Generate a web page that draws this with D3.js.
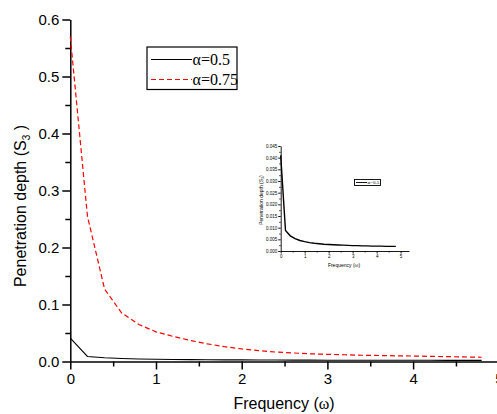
<!DOCTYPE html>
<html><head><meta charset="utf-8">
<script src="https://cdn.jsdelivr.net/npm/d3@7/dist/d3.min.js"></script>
<style>body{margin:0;background:#fff}svg{display:block}</style>
</head><body><svg id="c" width="497" height="414"></svg>
<script>
const freq = [0,0.2,0.4,0.6,0.8,1.0,1.2,1.4,1.6,1.8,2.0,2.2,2.4,2.6,2.8,3.0,3.2,3.4,3.6,3.8,4.0,4.2,4.4,4.6,4.8];
const alpha05 = [0.041,0.0088,0.0065,0.0053,0.0045,0.0040,0.0036,0.0033,0.0031,0.0029,0.0028,0.0027,0.0026,0.0025,0.0024,0.0023,0.0023,0.0022,0.0022,0.0021,0.0021,0.0021,0.0020,0.0020,0.0020];
const alpha075 = [0.57,0.255,0.127,0.085,0.065,0.052,0.044,0.037,0.031,0.026,0.022,0.019,0.0165,0.015,0.0135,0.0126,0.0118,0.011,0.0105,0.010,0.0096,0.009,0.0085,0.008,0.0075];
const legendLabels = ["α=0.5","α=0.75"];
const xTicks = [0,1,2,3,4,5];
const xMinor = [0.5,1.5,2.5,3.5,4.5];
const yTicks = [0,0.1,0.2,0.3,0.4,0.5,0.6];
const yMinor = [0.05,0.15,0.25,0.35,0.45,0.55];
const insetYTicks = [0,0.005,0.01,0.015,0.02,0.025,0.03,0.035,0.04,0.045];
const insetYMinor = [0.0025,0.0075,0.0125,0.0175,0.0225,0.0275,0.0325,0.0375,0.0425];

const svg = d3.select("#c");
const sans = "Arial, 'Liberation Sans', sans-serif";
const serif = "'Times New Roman', 'Liberation Serif', serif";

// main scales
const x = d3.scaleLinear().domain([0,5]).range([70.3,498.8]);
const y = d3.scaleLinear().domain([0,0.6]).range([361.5,19.5]);

function styleAxis(g, fs){
  g.selectAll("path,line").attr("stroke","#000");
  g.selectAll("text").attr("font-family",sans).attr("font-size",fs).attr("fill","#000");
}

// minor ticks
svg.append("g").attr("transform",`translate(0,${y(0)})`)
  .call(d3.axisBottom(x).tickValues(xMinor).tickSize(5).tickFormat("").tickSizeOuter(0))
  .call(g=>{g.select(".domain").remove(); g.selectAll("line").attr("stroke","#000").attr("stroke-width",1.5);});
svg.append("g").attr("transform",`translate(${x(0)},0)`)
  .call(d3.axisLeft(y).tickValues(yMinor).tickSize(5).tickFormat("").tickSizeOuter(0))
  .call(g=>{g.select(".domain").remove(); g.selectAll("line").attr("stroke","#000").attr("stroke-width",1.5);});

const gx = svg.append("g").attr("transform",`translate(0,${y(0)})`)
  .call(d3.axisBottom(x).tickValues(xTicks).tickSize(8).tickPadding(4).tickSizeOuter(0).tickFormat(d3.format("d")));
styleAxis(gx,15);
gx.selectAll("path,line").attr("stroke-width",1.5);
const gy = svg.append("g").attr("transform",`translate(${x(0)},0)`)
  .call(d3.axisLeft(y).tickValues(yTicks).tickSize(8).tickPadding(3).tickSizeOuter(0).tickFormat(d3.format(".1f")));
styleAxis(gy,15);
gy.selectAll("path,line").attr("stroke-width",1.5);

// lines
const line = d3.line().x((d,i)=>x(freq[i])).y(d=>y(d));
svg.append("path").datum(alpha05).attr("d",line).attr("fill","none").attr("stroke","#000").attr("stroke-width",1.1);
svg.append("path").datum(alpha075).attr("d",line).attr("fill","none").attr("stroke","#ff0000").attr("stroke-width",1.2).attr("stroke-dasharray","5,3");

// axis titles
svg.append("text").attr("x",284).attr("y",409).attr("text-anchor","middle")
  .attr("font-family",sans).attr("font-size",16).text("Frequency (")
  .append("tspan").attr("font-family",serif).text("ω")
  .select(function(){return this.parentNode;}).append("tspan").text(")");
const yt = svg.append("text").attr("transform","translate(25.5,206) rotate(-90)").attr("text-anchor","middle")
  .attr("font-family",sans).attr("font-size",16);
yt.append("tspan").text("Penetration depth (S");
yt.append("tspan").attr("font-size",10).attr("dy",4).text("3");
yt.append("tspan").attr("dy",-4).text(" )");

// legend
const lg = svg.append("g");
lg.append("rect").attr("x",147).attr("y",47).attr("width",90).attr("height",42.5)
  .attr("fill","#fff").attr("stroke","#000").attr("stroke-width",1.2);
const legStyles = [{c:"#000",d:null,w:1.1},{c:"#ff0000",d:"5,3",w:1.2}];
legendLabels.forEach((t,i)=>{
  const yy = 59.5 + i*20;
  lg.append("line").attr("x1",151).attr("x2",192).attr("y1",yy).attr("y2",yy)
    .attr("stroke",legStyles[i].c).attr("stroke-width",legStyles[i].w).attr("stroke-dasharray",legStyles[i].d);
  lg.append("text").attr("x",192.5).attr("y",yy+5.5).attr("font-family",serif).attr("font-size",16).text(t);
});

// inset
const xi = d3.scaleLinear().domain([0,5.35]).range([280.7,409]);
const yi = d3.scaleLinear().domain([0,0.045]).range([251,146]);
const ig = svg.append("g");
ig.append("g").attr("transform",`translate(0,${yi(0)})`)
  .call(d3.axisBottom(xi).tickValues(xMinor).tickSize(1.5).tickFormat("").tickSizeOuter(0))
  .call(g=>{g.select(".domain").remove(); g.selectAll("line").attr("stroke","#000").attr("stroke-width",0.8);});
ig.append("g").attr("transform",`translate(${xi(0)},0)`)
  .call(d3.axisLeft(yi).tickValues(insetYMinor).tickSize(1.5).tickFormat("").tickSizeOuter(0))
  .call(g=>{g.select(".domain").remove(); g.selectAll("line").attr("stroke","#000").attr("stroke-width",0.8);});
const igx = ig.append("g").attr("transform",`translate(0,${yi(0)})`)
  .call(d3.axisBottom(xi).tickValues(xTicks).tickSize(2.5).tickPadding(1.5).tickSizeOuter(0).tickFormat(d3.format("d")));
styleAxis(igx,4.5); igx.selectAll("path,line").attr("stroke-width",0.9);
const igy = ig.append("g").attr("transform",`translate(${xi(0)},0)`)
  .call(d3.axisLeft(yi).tickValues(insetYTicks).tickSize(2.5).tickPadding(1).tickSizeOuter(0).tickFormat(d3.format(".3f")));
styleAxis(igy,4.5); igy.selectAll("path,line").attr("stroke-width",0.9);
const linei = d3.line().x((d,i)=>xi(freq[i])).y(d=>yi(d));
ig.append("path").datum(alpha05).attr("d",linei).attr("fill","none").attr("stroke","#000").attr("stroke-width",1.4);
ig.append("text").attr("x",344).attr("y",267).attr("text-anchor","middle").attr("font-family",sans).attr("font-size",5)
  .text("Frequency (ω)");
const iyt = ig.append("text").attr("transform","translate(262.5,200) rotate(-90)").attr("text-anchor","middle")
  .attr("font-family",sans).attr("font-size",5);
iyt.append("tspan").text("Penetration depth (S");
iyt.append("tspan").attr("font-size",3.5).attr("dy",1.2).text("3");
iyt.append("tspan").attr("dy",-1.2).text(")");
ig.append("rect").attr("x",354.5).attr("y",179.5).attr("width",26).attr("height",6)
  .attr("fill","#fff").attr("stroke","#000").attr("stroke-width",0.9);
ig.append("line").attr("x1",356).attr("x2",367).attr("y1",182.5).attr("y2",182.5).attr("stroke","#000").attr("stroke-width",0.9);
ig.append("text").attr("x",367.5).attr("y",184.3).attr("font-family",serif).attr("font-size",5).text(legendLabels[0]);
</script></body></html>
